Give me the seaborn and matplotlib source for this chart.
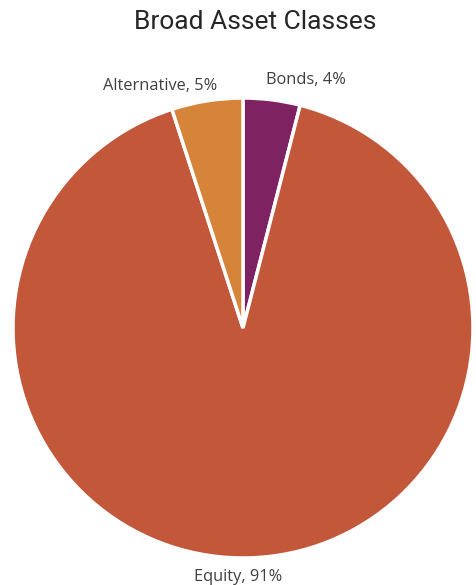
import matplotlib
matplotlib.use("Agg")
import matplotlib.pyplot as plt
import seaborn as sns

sns.set_theme(style="white")

categories = ["Bonds", "Equity", "Alternative"]
shares = [4, 91, 5]
colors = ["#7E2262", "#C2573A", "#D5843A"]

W, H = 477, 585
fig = plt.figure(figsize=(W / 100, H / 100), dpi=100)
ax = fig.add_axes([0, 0, 1, 1])

cx, cy, r = 243, H - 328, 230
wedges, _ = ax.pie(
    shares, colors=colors, startangle=90, counterclock=False,
    center=(cx, cy), radius=r, frame=True,
    wedgeprops=dict(edgecolor="white", linewidth=2.5),
)
ax.set_xlim(0, W)
ax.set_ylim(0, H)
ax.set_aspect("equal")
ax.axis("off")

label_font = dict(family=["Open Sans", "DejaVu Sans"], fontsize=11.8, color="#404040")
# outside labels: anchor position and alignment per slice
anchors = {
    "Bonds": (266, H - 80, "left"),
    "Equity": (238, H - 577, "center"),
    "Alternative": (217, H - 86, "right"),
}
for name, val in zip(categories, shares):
    x, y, ha = anchors[name]
    ax.text(x, y, f"{name}, {val}%", ha=ha, va="center", **label_font)

fig.text(255 / W, 1 - 22 / H, "Broad Asset Classes", ha="center", va="center",
         family=["Roboto", "DejaVu Sans"], fontsize=19, color="#262626")

fig.savefig("out.png", dpi=100)
